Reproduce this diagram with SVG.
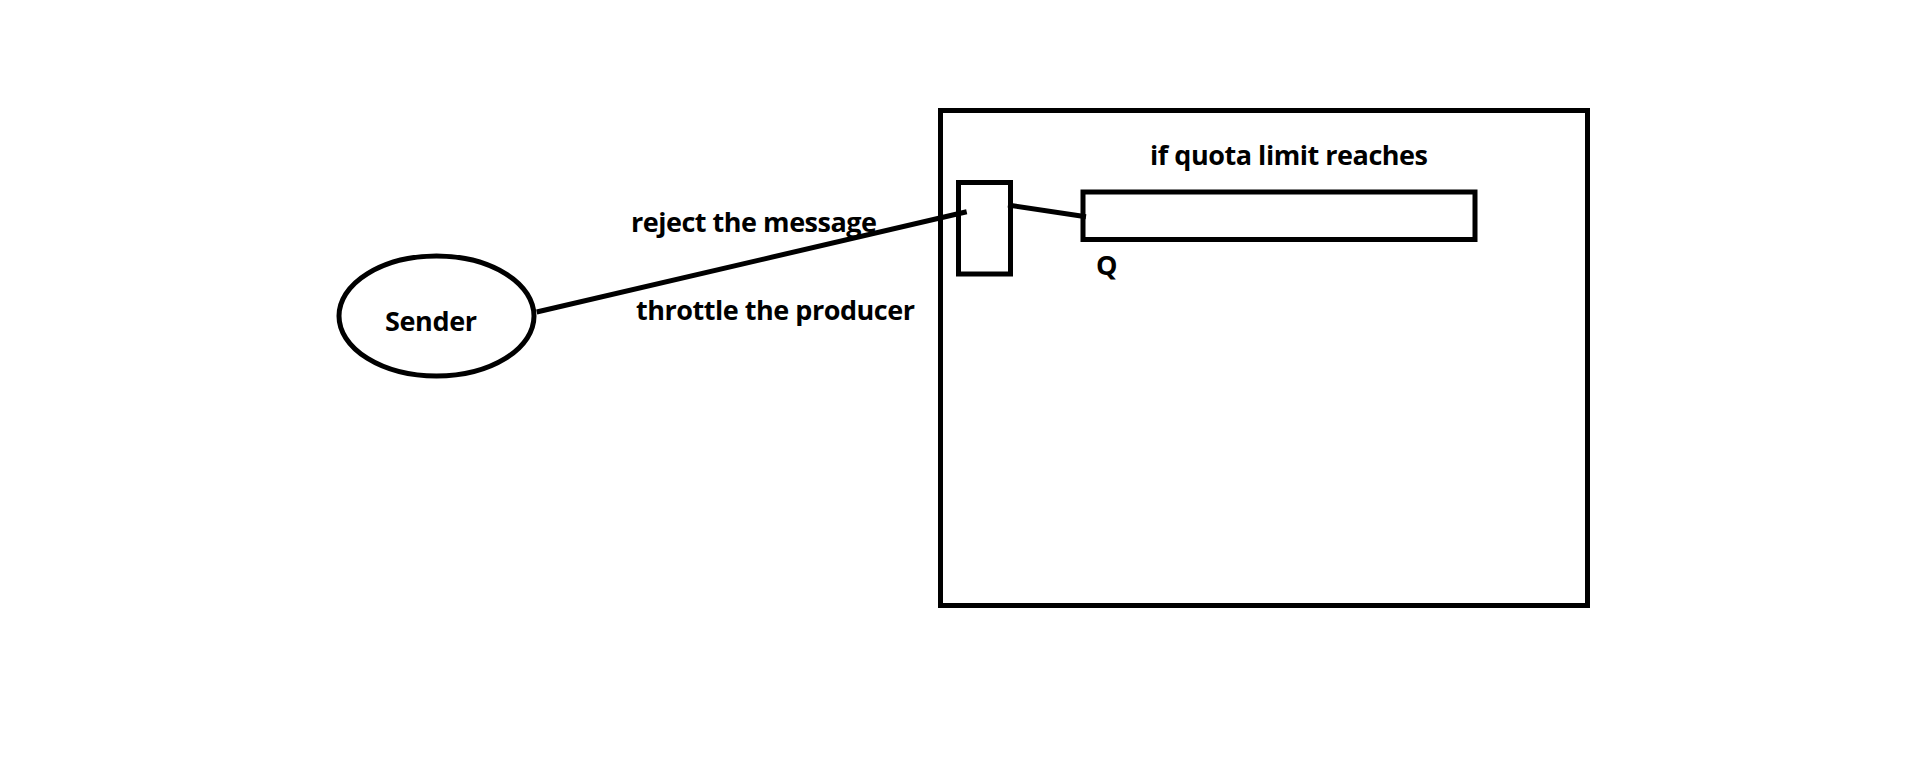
<svg xmlns="http://www.w3.org/2000/svg" width="1906" height="761" viewBox="0 0 1906 761">
<style>
.s{fill:none;stroke:#000;stroke-width:5}
.t{font-family:"Open Sans","Noto Sans",sans-serif;font-weight:700;font-size:27px;fill:#000}
</style>
<rect width="1906" height="761" fill="#fff"/>
<g id="container"><rect class="s" x="940.5" y="110.5" width="647" height="495"/></g>
<g id="sender"><ellipse class="s" cx="436.5" cy="316" rx="97.5" ry="60"/><text class="t" x="385" y="331" textLength="92">Sender</text></g>
<g id="gate"><rect class="s" x="958.5" y="182.5" width="52" height="91.5"/></g>
<g id="queue"><rect class="s" x="1083" y="192" width="392" height="47.5"/><text class="t" x="1096" y="275">Q</text></g>
<g id="labels">
<text class="t" x="1150" y="165" textLength="278">if quota limit reaches</text>
<text class="t" x="631" y="232" textLength="246">reject the message</text>
<text class="t" x="636" y="320" textLength="279">throttle the producer</text>
</g>
<g id="connectors">
<line class="s" x1="536.7" y1="312" x2="966.7" y2="211.7"/>
<line class="s" stroke-width="4.5" x1="1008" y1="205" x2="1086" y2="216.7"/>
</g>
</svg>
